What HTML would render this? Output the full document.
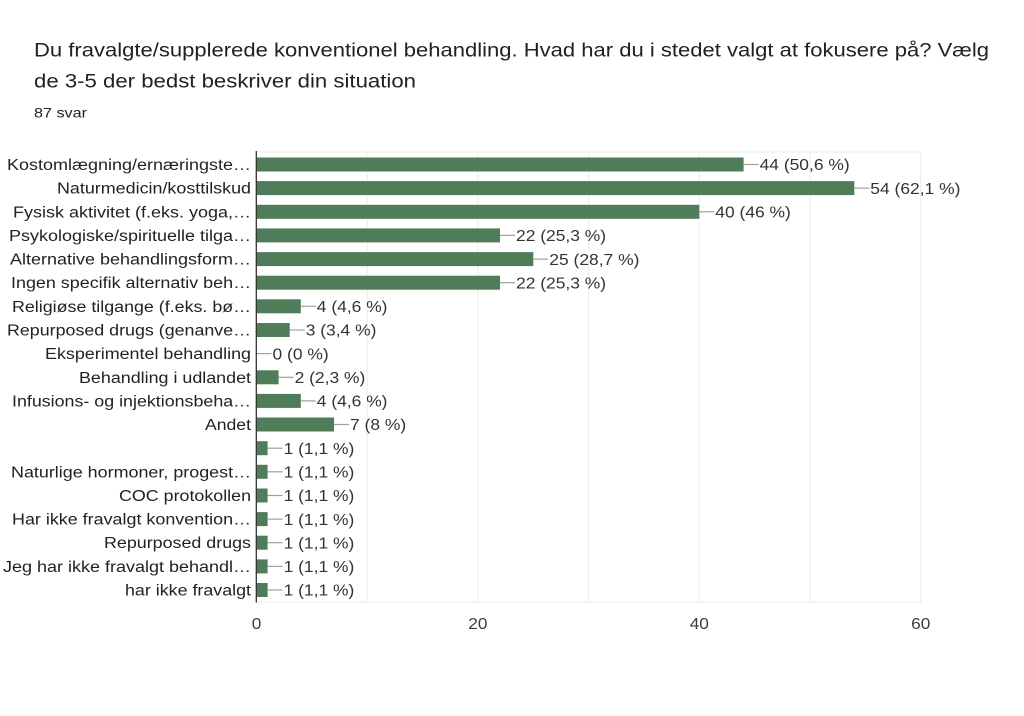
<!DOCTYPE html>
<html><head><meta charset="utf-8"><style>
html,body{margin:0;padding:0;background:#fff;}
svg{display:block;}
text{font-family:"Liberation Sans",Arial,sans-serif;}
</style></head><body>
<svg width="1024" height="716" viewBox="0 0 1024 716" xmlns="http://www.w3.org/2000/svg">
<rect width="1024" height="716" fill="#fff"/>
<text x="34" y="56.7" font-size="19.5" fill="#202124" textLength="955" lengthAdjust="spacingAndGlyphs">Du fravalgte/supplerede konventionel behandling. Hvad har du i stedet valgt at fokusere på? Vælg</text>
<text x="34" y="87.3" font-size="19.5" fill="#202124" textLength="382" lengthAdjust="spacingAndGlyphs">de 3-5 der bedst beskriver din situation</text>
<text x="34" y="117.3" font-size="14" fill="#202124" textLength="53" lengthAdjust="spacingAndGlyphs">87 svar</text>

<g stroke="#ebebeb" stroke-width="1">
<line x1="256" y1="152" x2="921" y2="152"/>
<line x1="256" y1="602" x2="921" y2="602"/>
<line x1="367.2" y1="152" x2="367.2" y2="602"/>
<line x1="477.9" y1="152" x2="477.9" y2="602"/>
<line x1="588.6" y1="152" x2="588.6" y2="602"/>
<line x1="699.3" y1="152" x2="699.3" y2="602"/>
<line x1="810" y1="152" x2="810" y2="602"/>
<line x1="920.7" y1="152" x2="920.7" y2="602"/>
</g>

<g font-size="15.5" fill="#222" text-anchor="end">
<text x="251" y="170" textLength="244" lengthAdjust="spacingAndGlyphs">Kostomlægning/ernæringste…</text>
<text x="251" y="193.6" textLength="194" lengthAdjust="spacingAndGlyphs">Naturmedicin/kosttilskud</text>
<text x="251" y="217.3" textLength="238" lengthAdjust="spacingAndGlyphs">Fysisk aktivitet (f.eks. yoga,…</text>
<text x="251" y="240.9" textLength="242" lengthAdjust="spacingAndGlyphs">Psykologiske/spirituelle tilga…</text>
<text x="251" y="264.6" textLength="241" lengthAdjust="spacingAndGlyphs">Alternative behandlingsform…</text>
<text x="251" y="288.2" textLength="240" lengthAdjust="spacingAndGlyphs">Ingen specifik alternativ beh…</text>
<text x="251" y="311.8" textLength="239" lengthAdjust="spacingAndGlyphs">Religiøse tilgange (f.eks. bø…</text>
<text x="251" y="335.5" textLength="244" lengthAdjust="spacingAndGlyphs">Repurposed drugs (genanve…</text>
<text x="251" y="359.1" textLength="206" lengthAdjust="spacingAndGlyphs">Eksperimentel behandling</text>
<text x="251" y="382.8" textLength="172" lengthAdjust="spacingAndGlyphs">Behandling i udlandet</text>
<text x="251" y="406.4" textLength="239" lengthAdjust="spacingAndGlyphs">Infusions- og injektionsbeha…</text>
<text x="251" y="430" textLength="46" lengthAdjust="spacingAndGlyphs">Andet</text>
<text x="251" y="477.3" textLength="240" lengthAdjust="spacingAndGlyphs">Naturlige hormoner, progest…</text>
<text x="251" y="501" textLength="132" lengthAdjust="spacingAndGlyphs">COC protokollen</text>
<text x="251" y="524.6" textLength="239" lengthAdjust="spacingAndGlyphs">Har ikke fravalgt konvention…</text>
<text x="251" y="548.2" textLength="147" lengthAdjust="spacingAndGlyphs">Repurposed drugs</text>
<text x="251" y="571.9" textLength="248" lengthAdjust="spacingAndGlyphs">Jeg har ikke fravalgt behandl…</text>
<text x="251" y="595.5" textLength="126" lengthAdjust="spacingAndGlyphs">har ikke fravalgt</text>
</g>

<g fill="#4f7d59">
<rect x="256.5" y="157.5" width="487.1" height="14"/>
<rect x="256.5" y="181.1" width="597.8" height="14"/>
<rect x="256.5" y="204.8" width="442.8" height="14"/>
<rect x="256.5" y="228.4" width="243.5" height="14"/>
<rect x="256.5" y="252.1" width="276.8" height="14"/>
<rect x="256.5" y="275.7" width="243.5" height="14"/>
<rect x="256.5" y="299.3" width="44.3" height="14"/>
<rect x="256.5" y="323" width="33.2" height="14"/>
<rect x="256.5" y="370.3" width="22.1" height="14"/>
<rect x="256.5" y="393.9" width="44.3" height="14"/>
<rect x="256.5" y="417.5" width="77.5" height="14"/>
<rect x="256.5" y="441.2" width="11.1" height="14"/>
<rect x="256.5" y="464.8" width="11.1" height="14"/>
<rect x="256.5" y="488.5" width="11.1" height="14"/>
<rect x="256.5" y="512.1" width="11.1" height="14"/>
<rect x="256.5" y="535.7" width="11.1" height="14"/>
<rect x="256.5" y="559.4" width="11.1" height="14"/>
<rect x="256.5" y="583" width="11.1" height="14"/>
</g>

<g stroke="#a0a0a0" stroke-width="1.2">
<line x1="743.6" y1="164.5" x2="758.6" y2="164.5"/>
<line x1="854.3" y1="188.1" x2="869.3" y2="188.1"/>
<line x1="699.3" y1="211.8" x2="714.3" y2="211.8"/>
<line x1="500" y1="235.4" x2="515" y2="235.4"/>
<line x1="533.3" y1="259.1" x2="548.3" y2="259.1"/>
<line x1="500" y1="282.7" x2="515" y2="282.7"/>
<line x1="300.8" y1="306.3" x2="315.8" y2="306.3"/>
<line x1="289.7" y1="330" x2="304.7" y2="330"/>
<line x1="256.5" y1="353.6" x2="271.5" y2="353.6"/>
<line x1="278.6" y1="377.3" x2="293.6" y2="377.3"/>
<line x1="300.8" y1="400.9" x2="315.8" y2="400.9"/>
<line x1="334" y1="424.5" x2="349" y2="424.5"/>
<line x1="267.6" y1="448.2" x2="282.6" y2="448.2"/>
<line x1="267.6" y1="471.8" x2="282.6" y2="471.8"/>
<line x1="267.6" y1="495.5" x2="282.6" y2="495.5"/>
<line x1="267.6" y1="519.1" x2="282.6" y2="519.1"/>
<line x1="267.6" y1="542.7" x2="282.6" y2="542.7"/>
<line x1="267.6" y1="566.4" x2="282.6" y2="566.4"/>
<line x1="267.6" y1="590" x2="282.6" y2="590"/>
</g>

<g font-size="16" fill="#333">
<text transform="translate(759.6,170.2) scale(1.09,1)">44 (50,6 %)</text>
<text transform="translate(870.3,193.8) scale(1.09,1)">54 (62,1 %)</text>
<text transform="translate(715.3,217.5) scale(1.09,1)">40 (46 %)</text>
<text transform="translate(516,241.1) scale(1.09,1)">22 (25,3 %)</text>
<text transform="translate(549.3,264.8) scale(1.09,1)">25 (28,7 %)</text>
<text transform="translate(516,288.4) scale(1.09,1)">22 (25,3 %)</text>
<text transform="translate(316.8,312) scale(1.09,1)">4 (4,6 %)</text>
<text transform="translate(305.7,335.7) scale(1.09,1)">3 (3,4 %)</text>
<text transform="translate(272.5,359.3) scale(1.09,1)">0 (0 %)</text>
<text transform="translate(294.6,383) scale(1.09,1)">2 (2,3 %)</text>
<text transform="translate(316.8,406.6) scale(1.09,1)">4 (4,6 %)</text>
<text transform="translate(350,430.2) scale(1.09,1)">7 (8 %)</text>
<text transform="translate(283.6,453.9) scale(1.09,1)">1 (1,1 %)</text>
<text transform="translate(283.6,477.5) scale(1.09,1)">1 (1,1 %)</text>
<text transform="translate(283.6,501.2) scale(1.09,1)">1 (1,1 %)</text>
<text transform="translate(283.6,524.8) scale(1.09,1)">1 (1,1 %)</text>
<text transform="translate(283.6,548.4) scale(1.09,1)">1 (1,1 %)</text>
<text transform="translate(283.6,572.1) scale(1.09,1)">1 (1,1 %)</text>
<text transform="translate(283.6,595.7) scale(1.09,1)">1 (1,1 %)</text>
</g>

<line x1="256.3" y1="151" x2="256.3" y2="602.5" stroke="#333" stroke-width="1.3"/>

<g font-size="16" fill="#3c3c3c" text-anchor="middle">
<text transform="translate(256.5,629) scale(1.08,1)">0</text>
<text transform="translate(477.9,629) scale(1.08,1)">20</text>
<text transform="translate(699.3,629) scale(1.08,1)">40</text>
<text transform="translate(920.7,629) scale(1.08,1)">60</text>
</g>
</svg>
</body></html>
